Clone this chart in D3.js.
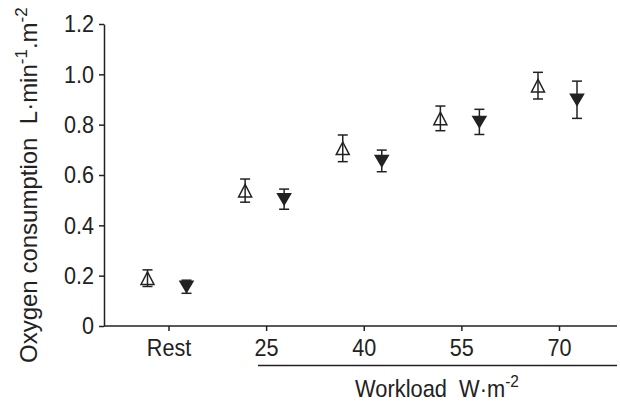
<!DOCTYPE html>
<html>
<head>
<meta charset="utf-8">
<script src="https://cdn.jsdelivr.net/npm/d3@7"></script>
<style>
  html, body { margin: 0; padding: 0; background: #fff; }
  svg text { font-family: "Liberation Sans", Arial, Helvetica, sans-serif; fill: #222; white-space: pre; }
</style>
</head>
<body>
<svg id="chart" width="620" height="403"></svg>
<script>
// Workload levels on the x axis
const categories = ["Rest", "25", "40", "55", "70"];
// Open triangles: mean and error
const openMean = [0.19, 0.538, 0.706, 0.825, 0.955];
const openErr = [0.033, 0.046, 0.053, 0.049, 0.053];
// Filled triangles: mean and error
const filledMean = [0.156, 0.504, 0.656, 0.811, 0.899];
const filledErr = [0.026, 0.040, 0.043, 0.050, 0.074];
// Y tick values
const yTicks = [0, 0.2, 0.4, 0.6, 0.8, 1.0, 1.2];

const svg = d3.select("#chart");
const ink = "#222";
const fontSize = 24;
const squeeze = 0.9;   // narrow, condensed-looking lettering

const y = d3.scaleLinear().domain([0, 1.2]).range([326, 24]);
const x = d3.scalePoint().domain(categories).range([168.5, 559]);

const axisY = 104, axisRight = 617;

// y axis
const gy = svg.append("g").attr("transform", `translate(${axisY},0)`)
  .call(d3.axisLeft(y).tickValues(yTicks).tickSizeInner(5).tickSizeOuter(0)
    .tickFormat(d => d === 0 ? "0" : d.toFixed(1)));
gy.select(".domain").attr("stroke", ink).attr("stroke-width", 1.5);
gy.selectAll(".tick line").attr("stroke", ink).attr("stroke-width", 1.5);
gy.selectAll(".tick text").attr("x", -10 / squeeze).attr("font-size", fontSize)
  .attr("transform", `scale(${squeeze},1)`)
  .attr("font-family", null).attr("fill", null);

// x axis
const gx = svg.append("g").attr("transform", `translate(0,${y(0)})`)
  .call(d3.axisBottom(x).tickSizeInner(5).tickSizeOuter(0));
gx.select(".domain").remove();
gx.append("line").attr("x1", axisY).attr("x2", axisRight)
  .attr("stroke", ink).attr("stroke-width", 1.5);
gx.selectAll(".tick line").attr("stroke", ink).attr("stroke-width", 1.5);
gx.selectAll(".tick text").attr("dy", null).attr("y", 30).attr("font-size", fontSize)
  .attr("transform", `scale(${squeeze},1)`)
  .attr("font-family", null).attr("fill", null);

// bracket line under the workload ticks
svg.append("line").attr("x1", 258).attr("x2", axisRight)
  .attr("y1", 365.5).attr("y2", 365.5)
  .attr("stroke", ink).attr("stroke-width", 1.5);

// x axis title
const xt = svg.append("text").attr("transform", `translate(437,397) scale(0.91,1)`)
  .attr("text-anchor", "middle").attr("font-size", fontSize);
xt.append("tspan").text("Workload  W·m");
xt.append("tspan").attr("dy", -10).attr("font-size", 17).text("-2");

// y axis title
const yt = svg.append("text").attr("transform", "translate(37,363) rotate(-90)")
  .attr("text-anchor", "start").attr("font-size", fontSize);
yt.append("tspan").text("Oxygen consumption  L·min");
yt.append("tspan").attr("dy", -10).attr("font-size", 17).text("-1");
yt.append("tspan").attr("dy", 10).text(".m");
yt.append("tspan").attr("dy", -10).attr("font-size", 17).text("-2");

// series definitions
const series = [
  { mean: openMean, err: openErr, dx: -21, filled: false },
  { mean: filledMean, err: filledErr, dx: 18, filled: true }
];

const capW = 5;
series.forEach(s => {
  const g = svg.append("g");
  const pts = categories.map((c, i) => ({ cx: x(c) + s.dx, m: s.mean[i], e: s.err[i] }));

  // triangle markers
  g.selectAll("path.marker").data(pts).join("path")
    .attr("class", "marker")
    .attr("d", d => {
      const cy = y(d.m), w = 6.5;
      if (s.filled) {
        const h = 5.5;
        return `M${d.cx - w},${cy - h}L${d.cx + w},${cy - h}L${d.cx},${cy + h}Z`;
      } else {
        const h = 6.3;
        return `M${d.cx - w},${cy + h}L${d.cx + w},${cy + h}L${d.cx},${cy - h}Z`;
      }
    })
    .attr("fill", s.filled ? ink : "#fff")
    .attr("stroke", ink).attr("stroke-width", 1.5).attr("stroke-linejoin", "miter");

  // error bars
  const eb = g.selectAll("g.err").data(pts).join("g").attr("class", "err")
    .attr("stroke", ink).attr("stroke-width", 1.5);
  eb.append("line").attr("x1", d => d.cx).attr("x2", d => d.cx)
    .attr("y1", d => y(d.m + d.e)).attr("y2", d => y(d.m - d.e));
  eb.append("line").attr("x1", d => d.cx - capW).attr("x2", d => d.cx + capW)
    .attr("y1", d => y(d.m + d.e)).attr("y2", d => y(d.m + d.e));
  eb.append("line").attr("x1", d => d.cx - capW).attr("x2", d => d.cx + capW)
    .attr("y1", d => y(d.m - d.e)).attr("y2", d => y(d.m - d.e));
});
</script>
</body>
</html>
